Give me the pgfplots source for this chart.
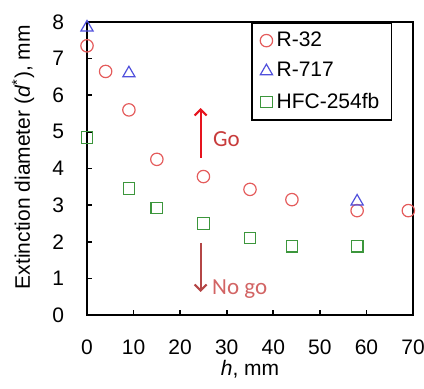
\documentclass[border=0pt]{standalone}
\usepackage{pgfplots}
\pgfplotsset{compat=1.18}
\usepackage{fontspec}
\setmainfont{Liberation Sans}
\newfontfamily\calibri{Carlito}
\usetikzlibrary{arrows.meta}
\definecolor{cR}{RGB}{228,92,92}
\definecolor{cB}{RGB}{80,80,220}
\definecolor{cG}{RGB}{60,150,60}
\definecolor{goRed}{RGB}{230,20,30}
\definecolor{goText}{RGB}{200,60,60}
\definecolor{nogoArrow}{RGB}{180,70,70}
\definecolor{nogoText}{RGB}{210,100,100}
\begin{document}
\begin{tikzpicture}
\begin{axis}[
  scale only axis, width=163pt, height=146.5pt,
  xmin=0, xmax=70, ymin=0, ymax=8,
  xtick={0,10,...,70}, ytick={0,1,...,8},
  tick align=inside, xtick pos=bottom, ytick pos=left,
  major tick length=2.5pt,
  axis line style={line width=0.9pt},
  every tick/.style={line width=0.8pt, black},
  /pgf/number format/assume math mode=true,
  tick label style={font=\fontsize{10.5}{12}\selectfont},
  label style={font=\fontsize{10.5}{12}\selectfont},
  xticklabel style={yshift=-9pt},
  yticklabel style={xshift=-8pt},
  xlabel={\textit{h}, mm},
  ylabel={Extinction diameter (\textit{d}\textsuperscript{*}), mm},
  xlabel style={at={(axis description cs:0.5,0)}, anchor=center, yshift=-27pt},
  ylabel style={at={(axis description cs:-0.196,0.539)}, anchor=center},
  legend style={at={(0.936,1)}, anchor=north east, draw=black, line width=0.8pt,
    font=\fontsize{10.5}{12}\selectfont, row sep=2.5pt, inner xsep=4pt, inner ysep=2.5pt},
  legend cell align=left,
  clip=false,
]
\addplot[only marks, color=cR, mark=o, mark size=3.1pt, mark options={draw=cR, line width=0.6pt}]
  coordinates {(0,7.35) (4,6.65) (9,5.6) (15,4.25) (25,3.78) (35,3.43) (44,3.15) (58,2.85) (69,2.85)};
\addlegendentry{R-32}
\addplot[only marks, color=cB, mark=triangle, mark size=3.5pt, mark options={draw=cB, line width=0.6pt}]
  coordinates {(0,7.85) (9,6.6) (58,3.1)};
\addlegendentry{R-717}
\addplot[only marks, color=cG, mark=square, mark size=2.9pt, mark options={draw=cG, line width=0.6pt}]
  coordinates {(0,4.85) (9,3.45) (15,2.92) (25,2.5) (35,2.1) (44,1.88) (58,1.88)};
\addlegendentry{HFC-254fb}
\draw[goRed, line width=1pt, -{Straight Barb[length=3pt,width=6pt]}] (axis cs:24.4,4.3) -- (axis cs:24.4,5.65);
\node[anchor=west, text=goText, font=\calibri\fontsize{11.5}{13}\selectfont, inner sep=0pt] at (axis cs:27,4.8) {Go};
\draw[nogoArrow, line width=1pt, -{Straight Barb[length=3pt,width=6pt]}] (axis cs:24.4,1.97) -- (axis cs:24.4,0.63);
\node[anchor=west, text=nogoText, font=\calibri\fontsize{11.5}{13}\selectfont, inner sep=0pt] at (axis cs:26.8,0.72) {No go};
\end{axis}
\pgfresetboundingbox
\path[use as bounding box] ([shift={(-43.5pt,-36.5pt)}]current axis.south west) rectangle ([shift={(5.5pt,11pt)}]current axis.north east);
\end{tikzpicture}
\end{document}
